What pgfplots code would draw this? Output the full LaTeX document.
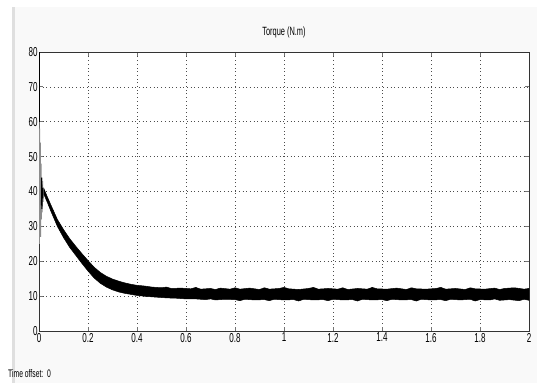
\documentclass[border=0pt]{standalone}
\usepackage{fontspec}
\setmainfont{Liberation Sans}[FakeStretch=0.62]
\usepackage{pgfplots}
\pgfplotsset{compat=1.18}
\begin{document}
\begin{tikzpicture}[x=1bp,y=1bp]
\path[use as bounding box] (-39,-52) rectangle (498,331);
\fill[gray!5] (-26,-52) rectangle (498,324);
\fill[gray!25] (-27,-52) rectangle (-24,324);
\begin{axis}[
  at={(0,0)}, anchor=south west,
  scale only axis, width=490bp, height=279bp,
  axis background/.style={fill=white},
  xmin=0, xmax=2, ymin=0, ymax=80,
  xtick={0,0.2,...,2}, ytick={0,10,...,80},
  xticklabels={0,0.2,0.4,0.6,0.8,1,1.2,1.4,1.6,1.8,2},
  grid=major,
  major grid style={black!70, line width=0.6pt, dash pattern=on 0.7bp off 3bp},
  tick pos=both, tick align=inside,
  major tick length=4bp,
  tick style={black!55, line width=0.8pt},
  axis line style={black!80, line width=0.9pt},
  tick label style={font=\fontsize{13}{14}\selectfont},
  /pgf/number format/assume math mode=true,
  xticklabel style={yshift=1.5bp},
  yticklabel style={xshift=2bp},
  title={Torque (N.m)},
  title style={font=\fontsize{12}{13}\selectfont, yshift=5bp},
  clip=true,
]
% initial transient
\addplot[black!45, line width=1.2pt] coordinates {
(0,60)(0.001,25)(0.002,58)(0.003,30)(0.005,54)(0.006,27)(0.008,48)(0.009,32)(0.011,44)(0.012,34)(0.014,43)(0.016,37)(0.018,41)(0.02,39)};
\addplot[black, line width=1.0pt] coordinates {(0.01,36)(0.011,44)(0.012,35)(0.014,41)(0.016,38)};
\addplot[black, line width=1.8pt] coordinates {(0,80)(0,60)};
% noisy band
\addplot[fill=black, draw=black, line width=0.5pt] coordinates {
(0.02,40.8)(0.035,38.3)(0.05,35.9)(0.075,32)(0.1,29.1)(0.125,26.5)(0.15,24.3)(0.175,22.2)(0.2,20.2)(0.225,18.3)(0.25,16.8)(0.275,15.7)(0.3,14.9)(0.325,14.3)(0.35,13.8)(0.375,13.4)(0.4,13.1)(0.43,12.9)(0.46,12.6)(0.5,12.4)(0.52,12.6)(0.54,12.2)(0.58,12.3)(0.62,12.1)(0.64,12.5)(0.66,12.0)(0.7,12.2)(0.72,11.9)(0.74,12.3)(0.78,12.0)(0.8,12.4)(0.82,12.0)(0.86,12.3)(0.9,11.9)(0.92,12.4)(0.94,12.0)(0.98,12.2)(1.0,12.5)(1.02,12.1)(1.06,11.9)(1.1,12.2)(1.12,12.5)(1.14,12.0)(1.18,12.2)(1.22,12.0)(1.24,12.4)(1.26,11.9)(1.3,12.2)(1.34,12.0)(1.36,12.5)(1.38,12.1)(1.42,12.0)(1.46,12.3)(1.5,11.9)(1.52,12.4)(1.54,12.1)(1.58,12.0)(1.62,12.2)(1.64,12.5)(1.66,12.0)(1.7,12.2)(1.74,11.9)(1.76,12.4)(1.78,12.1)(1.82,12.0)(1.86,12.3)(1.88,11.9)(1.9,12.2)(1.94,12.4)(1.98,12.0)(2,12.2)
(2,8.8)(1.98,9.1)(1.96,8.7)(1.92,9.0)(1.88,8.8)(1.86,9.2)(1.84,8.9)(1.8,9.0)(1.78,8.6)(1.76,9.1)(1.72,8.9)(1.68,9.1)(1.66,8.7)(1.64,9.0)(1.6,8.9)(1.56,9.1)(1.54,8.6)(1.52,9.0)(1.48,8.9)(1.44,9.1)(1.42,8.7)(1.4,9.0)(1.36,8.9)(1.32,9.1)(1.3,8.6)(1.28,9.0)(1.24,8.9)(1.2,9.1)(1.18,8.7)(1.16,9.0)(1.12,8.9)(1.08,9.1)(1.06,8.6)(1.04,9.0)(1.0,8.9)(0.96,9.1)(0.94,8.7)(0.92,9.0)(0.88,8.9)(0.84,9.1)(0.82,8.7)(0.8,9.0)(0.76,9.1)(0.72,8.9)(0.7,9.2)(0.68,9.0)(0.64,9.2)(0.6,9.2)(0.56,9.4)(0.52,9.5)(0.48,9.7)(0.44,9.9)(0.4,10.2)(0.375,10.5)(0.35,10.8)(0.325,11.2)(0.3,11.8)(0.275,12.6)(0.25,13.7)(0.225,15.2)(0.2,17.2)(0.175,19.4)(0.15,21.7)(0.125,24.0)(0.1,26.8)(0.075,30)(0.05,34.1)(0.035,36.7)(0.02,39.2)} -- cycle;
\end{axis}
\node[anchor=west, font=\fontsize{11}{12}\selectfont, inner sep=0pt] at (-31,-43) {Time offset:\ \ 0};
\end{tikzpicture}
\end{document}
